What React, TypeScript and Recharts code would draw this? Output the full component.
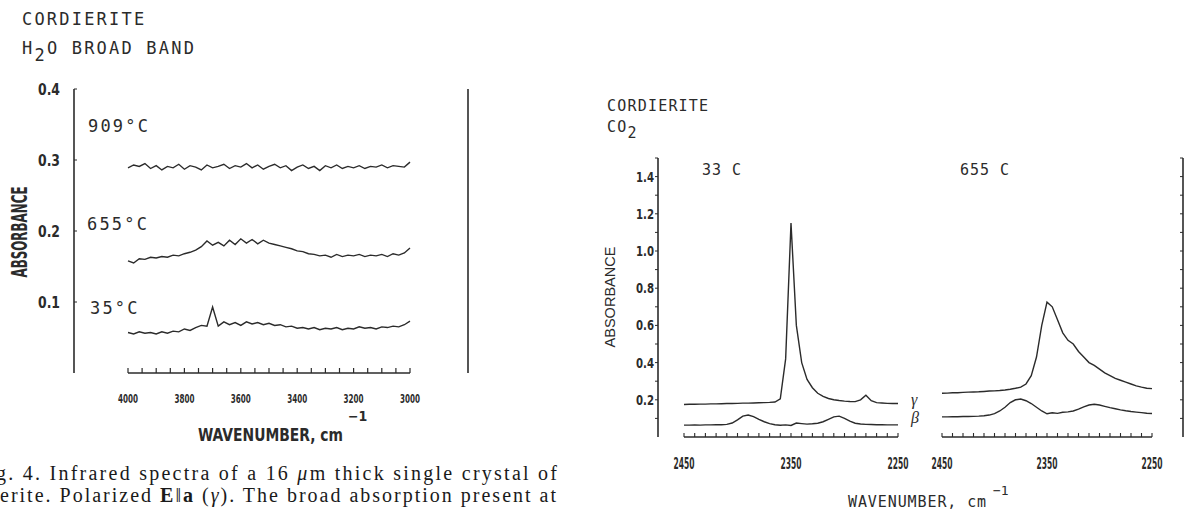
import React from "react";
import { LineChart, Line, XAxis, YAxis, ReferenceLine } from "recharts";

const INK = "#2b2b2b";
const MONO = "'DejaVu Sans Mono', 'Liberation Mono', monospace";
const NARROW = "'Liberation Sans Narrow', 'DejaVu Sans Condensed', 'Liberation Sans', sans-serif";
const SANS = "'Liberation Sans', Arial, sans-serif";
const SERIF = "'Liberation Serif', 'Times New Roman', serif";

// ---- H2O broad band (left figure) ----
const h2oWavenumbers = [
  4000, 3980, 3960, 3940, 3920, 3900, 3880, 3860, 3840, 3820, 3800, 3780, 3760,
  3740, 3720, 3700, 3680, 3660, 3640, 3620, 3600, 3580, 3560, 3540, 3520, 3500,
  3480, 3460, 3440, 3420, 3400, 3380, 3360, 3340, 3320, 3300, 3280, 3260, 3240,
  3220, 3200, 3180, 3160, 3140, 3120, 3100, 3080, 3060, 3040, 3020, 3000,
];
const h2o909 = [
  0.289, 0.293, 0.291, 0.295, 0.288, 0.292, 0.286, 0.291, 0.289, 0.294, 0.287,
  0.292, 0.29, 0.286, 0.293, 0.289, 0.291, 0.294, 0.288, 0.292, 0.29, 0.295,
  0.289, 0.293, 0.287, 0.291, 0.294, 0.289, 0.292, 0.285, 0.29, 0.293, 0.288,
  0.291, 0.285, 0.292, 0.289, 0.293, 0.288, 0.291, 0.289, 0.292, 0.288, 0.291,
  0.29, 0.293, 0.289, 0.292, 0.291, 0.29, 0.297,
];
const h2o655 = [
  0.158, 0.155, 0.161, 0.16, 0.163, 0.162, 0.164, 0.163, 0.166, 0.165, 0.168,
  0.17, 0.173, 0.178, 0.186, 0.18, 0.184, 0.179, 0.187, 0.181, 0.189, 0.183,
  0.188, 0.182, 0.187, 0.183, 0.181, 0.179, 0.177, 0.175, 0.172, 0.171, 0.168,
  0.167, 0.165, 0.166, 0.163, 0.167, 0.164, 0.166, 0.165, 0.167, 0.164, 0.166,
  0.165, 0.167, 0.164, 0.168, 0.166, 0.169, 0.176,
];
const h2o35 = [
  0.057, 0.055, 0.058, 0.056, 0.057, 0.055, 0.058, 0.056, 0.059, 0.058, 0.062,
  0.06, 0.064, 0.067, 0.066, 0.093, 0.066, 0.072, 0.068, 0.071, 0.067, 0.072,
  0.069, 0.071, 0.068, 0.07, 0.067, 0.068, 0.065, 0.066, 0.063, 0.064, 0.062,
  0.064, 0.061, 0.063, 0.062, 0.064, 0.061, 0.063, 0.062, 0.065, 0.063, 0.064,
  0.062, 0.065, 0.064, 0.066, 0.065, 0.068, 0.073,
];
const h2oTicks = [
  4000, 3950, 3900, 3850, 3800, 3750, 3700, 3650, 3600, 3550, 3500, 3450, 3400,
  3350, 3300, 3250, 3200, 3150, 3100, 3050, 3000,
];
const h2oTickLabels = [4000, 3800, 3600, 3400, 3200, 3000];
const h2oYTicks = [0.1, 0.2, 0.3, 0.4];

// ---- CO2 (right figure), gamma and beta at 33 C and 655 C ----
const co2Wavenumbers = [
  2450, 2445, 2440, 2435, 2430, 2425, 2420, 2415, 2410, 2405, 2400, 2395, 2390,
  2385, 2380, 2375, 2370, 2365, 2360, 2355, 2350, 2345, 2340, 2335, 2330, 2325,
  2320, 2315, 2310, 2305, 2300, 2295, 2290, 2285, 2280, 2275, 2270, 2265, 2260,
  2255, 2250,
];
const gamma33 = [
  0.175, 0.176, 0.176, 0.177, 0.177, 0.178, 0.178, 0.179, 0.18, 0.18, 0.181,
  0.182, 0.182, 0.183, 0.184, 0.185, 0.186, 0.188, 0.205, 0.42, 1.15, 0.6, 0.4,
  0.31, 0.265, 0.235, 0.218, 0.207, 0.2, 0.196, 0.193, 0.191, 0.19, 0.2, 0.225,
  0.195, 0.185, 0.183, 0.181, 0.18, 0.18,
];
const beta33 = [
  0.064, 0.064, 0.065, 0.064, 0.065, 0.065, 0.066, 0.066, 0.068, 0.075, 0.092,
  0.112, 0.118, 0.11, 0.095, 0.082, 0.072, 0.066, 0.063, 0.065, 0.062, 0.075,
  0.072, 0.069, 0.071, 0.074, 0.082, 0.095, 0.108, 0.112, 0.1, 0.085, 0.074,
  0.07, 0.068, 0.067, 0.066, 0.066, 0.065, 0.065, 0.065,
];
const gamma655 = [
  0.235, 0.236, 0.238, 0.238, 0.24, 0.241, 0.242, 0.243, 0.245, 0.247, 0.248,
  0.25, 0.253, 0.257, 0.262, 0.268, 0.285, 0.33, 0.43, 0.6, 0.725, 0.7, 0.63,
  0.56, 0.52, 0.5, 0.46, 0.43, 0.4, 0.385, 0.365, 0.345, 0.33, 0.315, 0.305,
  0.295, 0.285, 0.275, 0.268, 0.262, 0.26,
];
const beta655 = [
  0.108, 0.108, 0.109, 0.109, 0.11, 0.11, 0.111, 0.112, 0.114, 0.118, 0.126,
  0.14, 0.16, 0.185, 0.2, 0.204, 0.195, 0.18, 0.16, 0.14, 0.125, 0.13, 0.127,
  0.133, 0.135, 0.14, 0.15, 0.162, 0.172, 0.176, 0.172, 0.165, 0.158, 0.152,
  0.146, 0.141, 0.137, 0.134, 0.131, 0.128, 0.126,
];
const co2Ticks = [
  2450, 2440, 2430, 2420, 2410, 2400, 2390, 2380, 2370, 2360, 2350, 2340, 2330,
  2320, 2310, 2300, 2290, 2280, 2270, 2260, 2250,
];
const co2TickLabels = [2450, 2350, 2250];
const co2YTicks = [
  0.1, 0.2, 0.3, 0.4, 0.5, 0.6, 0.7, 0.8, 0.9, 1.0, 1.1, 1.2, 1.3, 1.4, 1.5,
];
const co2YLabels = [0.2, 0.4, 0.6, 0.8, 1.0, 1.2, 1.4];

const h2oRows = h2oWavenumbers.map((w, i) => ({
  w,
  t909: h2o909[i],
  t655: h2o655[i],
  t35: h2o35[i],
}));
const co2Rows = co2Wavenumbers.map((w, i) => ({
  w,
  g33: gamma33[i],
  b33: beta33[i],
  g655: gamma655[i],
  b655: beta655[i],
}));

// squeezed bold labels, like the plotter font
const plotterTick =
  (labels: number[], fmt: (v: number) => string, size: number, len: number, dy: string, anchor: string) =>
  (props: any) => {
    const { x, y, payload } = props;
    if (!labels.includes(payload.value)) return <g />;
    return (
      <text
        x={x}
        y={y}
        dy={dy}
        textAnchor={anchor}
        fontFamily={NARROW}
        fontWeight="bold"
        fontSize={size}
        fill={INK}
        textLength={len}
        lengthAdjust="spacingAndGlyphs"
      >
        {fmt(payload.value)}
      </text>
    );
  };

const blankTick = () => <g />;

const h2oXTick = plotterTick(h2oTickLabels, (v) => String(v), 13, 20, "0.71em", "middle");
const h2oYTick = plotterTick(h2oYTicks, (v) => v.toFixed(1), 16, 22, "0.36em", "end");
const co2XTick = plotterTick(co2TickLabels, (v) => String(v), 15, 21, "0.71em", "middle");
const co2YTick = plotterTick(co2YLabels, (v) => v.toFixed(1), 14, 18, "0.36em", "end");

const lineProps = {
  type: "linear" as const,
  stroke: INK,
  strokeWidth: 1.4,
  dot: false,
  isAnimationActive: false,
};

export default function App() {
  return (
    <div
      style={{
        position: "absolute",
        left: 0,
        top: 0,
        width: 1189,
        height: 514,
        background: "#fff",
        overflow: "hidden",
      }}
    >
      {/* H2O broad band */}
      <div style={{ position: "absolute", left: 0, top: 0 }}>
        <LineChart width={480} height={430} data={h2oRows} margin={{ top: 89, right: 10, bottom: 0, left: 0 }}>
          <XAxis
            dataKey="w"
            type="number"
            domain={[3000, 4000]}
            reversed
            ticks={h2oTicks}
            interval={0}
            padding={{ left: 54, right: 58 }}
            axisLine={false}
            tickLine={{ stroke: INK, strokeWidth: 1.2 }}
            tickSize={-5}
            tickMargin={26}
            height={57}
            tick={h2oXTick}
          />
          <YAxis
            type="number"
            domain={[0, 0.4]}
            ticks={h2oYTicks}
            interval={0}
            width={74}
            axisLine={{ stroke: INK, strokeWidth: 1.6 }}
            tickLine={{ stroke: INK }}
            tickSize={-3}
            tickMargin={17}
            tick={h2oYTick}
          />
          <YAxis
            yAxisId="r"
            orientation="right"
            type="number"
            domain={[0, 0.4]}
            ticks={h2oYTicks}
            interval={0}
            width={2}
            axisLine={{ stroke: INK, strokeWidth: 1.6 }}
            tickLine={{ stroke: INK }}
            tickSize={-4}
            tick={blankTick}
          />
          <ReferenceLine
            segment={[{ x: 4000, y: 0 }, { x: 3000, y: 0 }]}
            stroke={INK}
            strokeWidth={1.6}
            ifOverflow="visible"
          />
          <Line dataKey="t909" {...lineProps} />
          <Line dataKey="t655" {...lineProps} />
          <Line dataKey="t35" {...lineProps} />
        </LineChart>
      </div>

      {/* CO2, 33 C */}
      <div style={{ position: "absolute", left: 600, top: 100 }}>
        <LineChart width={320} height={380} data={co2Rows} margin={{ top: 58, right: 22, bottom: 0, left: 0 }}>
          <XAxis
            dataKey="w"
            type="number"
            domain={[2250, 2450]}
            reversed
            ticks={co2Ticks}
            interval={0}
            padding={{ left: 26, right: 0 }}
            axisLine={false}
            tickLine={{ stroke: INK, strokeWidth: 1.1 }}
            tickSize={-4}
            tickMargin={25}
            height={43}
            tick={co2XTick}
          />
          <YAxis
            type="number"
            domain={[0, 1.5]}
            ticks={co2YTicks}
            interval={0}
            width={58}
            axisLine={{ stroke: INK, strokeWidth: 1.6 }}
            tickLine={{ stroke: INK }}
            tickSize={3}
            tickMargin={1}
            tick={co2YTick}
          />
          <ReferenceLine
            segment={[{ x: 2450, y: 0 }, { x: 2250, y: 0 }]}
            stroke={INK}
            strokeWidth={1.6}
            ifOverflow="visible"
          />
          <Line dataKey="g33" {...lineProps} />
          <Line dataKey="b33" {...lineProps} />
        </LineChart>
      </div>

      {/* CO2, 655 C */}
      <div style={{ position: "absolute", left: 930, top: 100 }}>
        <LineChart width={259} height={380} data={co2Rows} margin={{ top: 58, right: 4, bottom: 0, left: 9 }}>
          <XAxis
            dataKey="w"
            type="number"
            domain={[2250, 2450]}
            reversed
            ticks={co2Ticks}
            interval={0}
            padding={{ left: 3, right: 31 }}
            axisLine={false}
            tickLine={{ stroke: INK, strokeWidth: 1.1 }}
            tickSize={-4}
            tickMargin={25}
            height={43}
            tick={co2XTick}
          />
          <YAxis
            orientation="right"
            type="number"
            domain={[0, 1.5]}
            ticks={co2YTicks}
            interval={0}
            width={2}
            axisLine={{ stroke: INK, strokeWidth: 1.6 }}
            tickLine={{ stroke: INK }}
            tickSize={-3}
            tick={blankTick}
          />
          <ReferenceLine
            segment={[{ x: 2450, y: 0 }, { x: 2250, y: 0 }]}
            stroke={INK}
            strokeWidth={1.6}
            ifOverflow="visible"
          />
          <Line dataKey="g655" {...lineProps} />
          <Line dataKey="b655" {...lineProps} />
        </LineChart>
      </div>

      {/* titles, annotations, caption */}
      <svg
        width={1189}
        height={514}
        style={{ position: "absolute", left: 0, top: 0, pointerEvents: "none" }}
      >
        <g fontFamily={MONO} fontSize={17} fill={INK} letterSpacing={2.2}>
          <text x={22} y={25}>CORDIERITE</text>
          <text x={22} y={54}>
            H<tspan dy={7}>2</tspan>
            <tspan dy={-7}>O BROAD BAND</tspan>
          </text>
          <text x={88} y={132}>909°C</text>
          <text x={87} y={230}>655°C</text>
          <text x={90} y={314}>35°C</text>
        </g>
        <text
          transform="translate(27,232) rotate(-90)"
          textAnchor="middle"
          fontFamily={NARROW}
          fontWeight="bold"
          fontSize={21}
          fill={INK}
          textLength={91}
          lengthAdjust="spacingAndGlyphs"
        >
          ABSORBANCE
        </text>
        <text
          x={198}
          y={441}
          fontFamily={NARROW}
          fontWeight="bold"
          fontSize={18}
          fill={INK}
          textLength={145}
          lengthAdjust="spacingAndGlyphs"
        >
          WAVENUMBER, cm
        </text>
        <text x={348} y={421} fontFamily={NARROW} fontWeight="bold" fontSize={14} fill={INK}>
          −1
        </text>

        <g fontFamily={MONO} fontSize={15} fill={INK} letterSpacing={1.2}>
          <text x={607} y={111}>CORDIERITE</text>
          <text x={607} y={132}>
            CO<tspan dy={6}>2</tspan>
          </text>
          <text x={702} y={175} letterSpacing={1}>33 C</text>
          <text x={960} y={175} letterSpacing={1}>655 C</text>
          <text x={848} y={507} letterSpacing={0.9}>WAVENUMBER, cm</text>
          <text x={993} y={495} fontSize={13} letterSpacing={0}>−1</text>
        </g>
        <text
          transform="translate(615,297) rotate(-90)"
          textAnchor="middle"
          fontFamily={SANS}
          fontSize={14}
          fill={INK}
          textLength={101}
          lengthAdjust="spacingAndGlyphs"
        >
          ABSORBANCE
        </text>
        <g fontFamily={SERIF} fontStyle="italic" fontSize={16} fill={INK}>
          <text x={911} y={405}>γ</text>
          <text x={911} y={423}>β</text>
        </g>

        <g fontFamily={SERIF} fontSize={20} fill="#1a1a1a">
          <text x={-4} y={480} textLength={561} lengthAdjust="spacing">
            g. 4. Infrared spectra of a 16 <tspan fontStyle="italic">μ</tspan>m thick single crystal of
          </text>
          <text x={0} y={502} textLength={556} lengthAdjust="spacing">
            erite. Polarized <tspan fontWeight="bold">E</tspan>‖<tspan fontWeight="bold">a</tspan> (
            <tspan fontStyle="italic">γ</tspan>). The broad absorption present at
          </text>
        </g>
      </svg>
    </div>
  );
}
